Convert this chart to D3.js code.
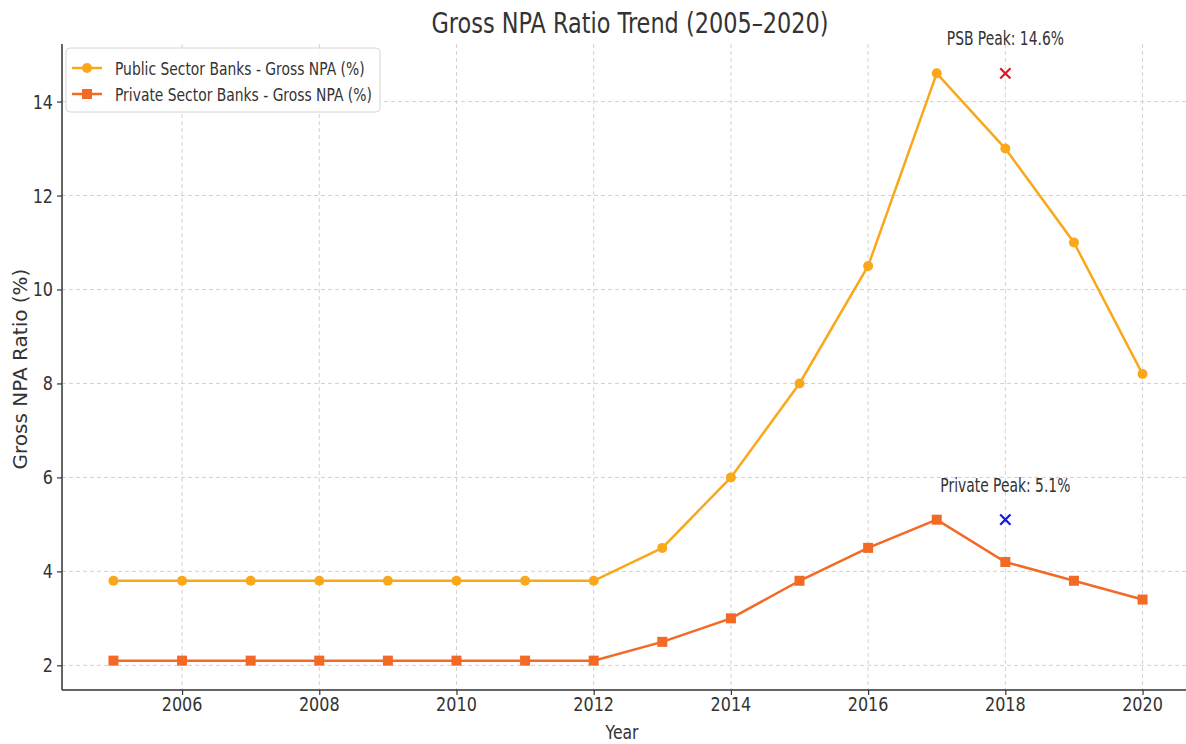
<!DOCTYPE html>
<html>
<head>
<meta charset="utf-8">
<script src="https://cdn.jsdelivr.net/npm/d3@7"></script>
<style>
  body { margin: 0; background: #fff; }
  text { font-family: "DejaVu Sans", sans-serif; fill: #333; }
</style>
</head>
<body>
<svg id="chart" width="1186" height="744"></svg>
<script>
// data
const years = [2005, 2006, 2007, 2008, 2009, 2010, 2011, 2012, 2013, 2014, 2015, 2016, 2017, 2018, 2019, 2020];
const psbNpa = [3.8, 3.8, 3.8, 3.8, 3.8, 3.8, 3.8, 3.8, 4.5, 6.0, 8.0, 10.5, 14.6, 13.0, 11.0, 8.2];
const pvtNpa = [2.1, 2.1, 2.1, 2.1, 2.1, 2.1, 2.1, 2.1, 2.5, 3.0, 3.8, 4.5, 5.1, 4.2, 3.8, 3.4];
const xTicks = [2006, 2008, 2010, 2012, 2014, 2016, 2018, 2020];
const yTicks = [2, 4, 6, 8, 10, 12, 14];
const seriesNames = ["Public Sector Banks - Gross NPA (%)", "Private Sector Banks - Gross NPA (%)"];
const peakNotes = [
  { year: 2018, value: 14.6, label: "PSB Peak: 14.6%", color: "#e8141c" },
  { year: 2018, value: 5.1, label: "Private Peak: 5.1%", color: "#1515e8" }
];

const psbColor = "#f9a81b";
const pvtColor = "#f26a26";

const svg = d3.select("#chart");
const plotL = 62, plotR = 1194, plotT = 44, plotB = 690;

const x = d3.scaleLinear().domain([2004.25, 2020.75]).range([plotL, plotR]);
const y = d3.scaleLinear().domain([1.475, 15.225]).range([plotB, plotT]);

// text squeezed sideways like the picture
function label(g, txt, px, py, size, sx, anchor) {
  return g.append("text")
    .attr("transform", `translate(${px},${py}) scale(${sx},1)`)
    .attr("text-anchor", anchor || "middle")
    .style("font-size", size + "px")
    .text(txt);
}

// grid
svg.append("g").selectAll("line").data(xTicks).enter().append("line")
  .attr("x1", d => x(d)).attr("x2", d => x(d))
  .attr("y1", plotT).attr("y2", plotB)
  .style("stroke", "#d2d2d2").style("stroke-dasharray", "4,3");
svg.append("g").selectAll("line").data(yTicks).enter().append("line")
  .attr("x1", plotL).attr("x2", 1186)
  .attr("y1", d => y(d)).attr("y2", d => y(d))
  .style("stroke", "#d2d2d2").style("stroke-dasharray", "4,3");

// axes
const xAxis = svg.append("g").attr("transform", `translate(0,${plotB})`)
  .call(d3.axisBottom(x).tickValues(xTicks).tickSize(5).tickSizeOuter(0));
const yAxis = svg.append("g").attr("transform", `translate(${plotL},0)`)
  .call(d3.axisLeft(y).tickValues(yTicks).tickSize(5).tickSizeOuter(0));
[xAxis, yAxis].forEach(a => {
  a.select(".domain").style("stroke", "#333").style("stroke-width", 1.5);
  a.selectAll(".tick line").style("stroke", "#333").style("stroke-width", 1.2);
  a.selectAll(".tick text").remove();
});
xAxis.select(".domain").attr("d", `M${plotL},0H1186`);
yAxis.select(".domain").attr("d", `M0,${plotT}V${plotB}`);

xTicks.forEach(t => label(svg, t, x(t), 711, 20, 0.8));
yTicks.forEach(t => label(svg, t, plotL - 9, y(t) + 7, 20, 0.8, "end"));

// lines
const line = d3.line().x((d, i) => x(years[i])).y(d => y(d));
svg.append("path").datum(psbNpa).attr("d", line)
  .style("fill", "none").style("stroke", psbColor).style("stroke-width", 2.5);
svg.append("path").datum(pvtNpa).attr("d", line)
  .style("fill", "none").style("stroke", pvtColor).style("stroke-width", 2.5);

svg.append("g").selectAll("circle").data(psbNpa).enter().append("circle")
  .attr("cx", (d, i) => x(years[i])).attr("cy", d => y(d)).attr("r", 5)
  .style("fill", psbColor);
svg.append("g").selectAll("rect").data(pvtNpa).enter().append("rect")
  .attr("x", (d, i) => x(years[i]) - 5).attr("y", d => y(d) - 5)
  .attr("width", 10).attr("height", 10)
  .style("fill", pvtColor);

// peak markers and notes
const cross = d3.symbol().type(d3.symbolX).size(70);
peakNotes.forEach(p => {
  svg.append("path").attr("d", cross)
    .attr("transform", `translate(${x(p.year)},${y(p.value)})`)
    .style("stroke", p.color).style("stroke-width", 2.2).style("fill", "none");
  label(svg, p.label, x(p.year), y(p.value) - 28, 19, 0.73);
});

// titles
label(svg, "Gross NPA Ratio Trend (2005\u20132020)", 630, 33, 28, 0.8);
label(svg, "Year", 622, 739, 19.5, 0.8);
svg.append("text")
  .attr("transform", "translate(27,369) rotate(-90)")
  .attr("text-anchor", "middle")
  .style("font-size", "20px")
  .text("Gross NPA Ratio (%)");

// legend
const lg = svg.append("g");
lg.append("rect").attr("x", 66).attr("y", 48).attr("width", 314).attr("height", 64)
  .attr("rx", 4).style("fill", "#fff").style("fill-opacity", 0.85)
  .style("stroke", "#d6d6d6");
[psbColor, pvtColor].forEach((c, i) => {
  const ly = 68 + i * 26;
  lg.append("line").attr("x1", 72).attr("x2", 102).attr("y1", ly).attr("y2", ly)
    .style("stroke", c).style("stroke-width", 2.5);
  if (i === 0) {
    lg.append("circle").attr("cx", 87).attr("cy", ly).attr("r", 5).style("fill", c);
  } else {
    lg.append("rect").attr("x", 82).attr("y", ly - 5).attr("width", 10).attr("height", 10).style("fill", c);
  }
  label(lg, seriesNames[i], 115, ly + 7, 18.5, 0.75, "start");
});
</script>
</body>
</html>
